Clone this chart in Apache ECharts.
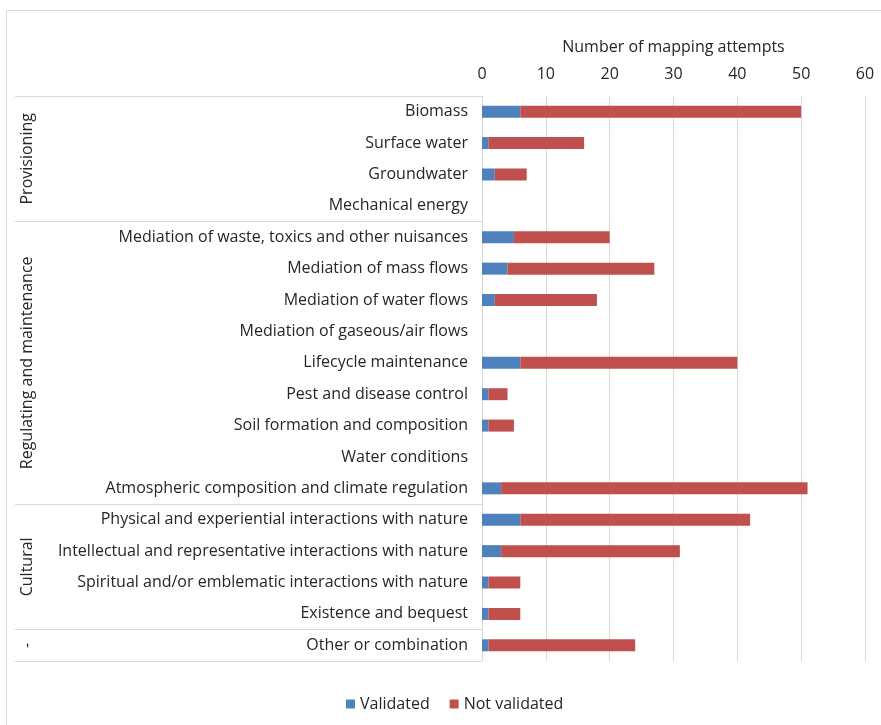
<!DOCTYPE html>
<html>
<head>
<meta charset="utf-8">
<script src="https://cdn.jsdelivr.net/npm/echarts@6/dist/echarts.min.js"></script>
<style>
html,body{margin:0;padding:0;background:#fff;}
#c{width:881px;height:725px;}
</style>
</head>
<body>
<div id="c"></div>
<script>
const categories = [
  "Biomass",
  "Surface water",
  "Groundwater",
  "Mechanical energy",
  "Mediation of waste, toxics and other nuisances",
  "Mediation of mass flows",
  "Mediation of water flows",
  "Mediation of gaseous/air flows",
  "Lifecycle maintenance",
  "Pest and disease control",
  "Soil formation and composition",
  "Water conditions",
  "Atmospheric composition and climate regulation",
  "Physical and experiential interactions with nature",
  "Intellectual and representative interactions with nature",
  "Spiritual and/or emblematic interactions with nature",
  "Existence and bequest",
  "Other or combination"
];
const validated =    [6, 1, 2, 0, 5, 4, 2, 0, 6, 1, 1, 0, 3, 6, 3, 1, 1, 1];
const notValidated = [44, 15, 5, 0, 15, 23, 16, 0, 34, 3, 4, 0, 48, 36, 28, 5, 5, 23];
const groupNames = ["Provisioning", "Regulating and maintenance", "Cultural", "-"];
const groupStart = [0, 4, 13, 17];
const groupEnd =   [3, 12, 16, 17];
const xTicks = [0, 10, 20, 30, 40, 50, 60];

const FONT = "Open Sans";
const FS = 16;
const TXT = "#262626";
const LINE = "#d9d9d9";

const chart = echarts.init(document.getElementById('c'), null, {renderer: 'canvas'});
const option = {
  animation: false,
  textStyle: {fontFamily: FONT},
  grid: {left: 482, top: 96, width: 383, height: 565, containLabel: false},
  xAxis: {
    type: 'value',
    position: 'top',
    min: xTicks[0], max: xTicks[xTicks.length - 1], interval: xTicks[1] - xTicks[0],
    name: 'Number of mapping attempts',
    nameLocation: 'middle',
    nameGap: 41,
    nameTextStyle: {fontFamily: FONT, fontSize: FS, color: TXT},
    axisLine: {show: false},
    axisTick: {show: false},
    axisLabel: {fontFamily: FONT, fontSize: FS, color: TXT, margin: 14},
    splitLine: {show: true, lineStyle: {color: LINE, width: 1}}
  },
  yAxis: {
    type: 'category',
    inverse: true,
    data: categories,
    axisLine: {show: true, lineStyle: {color: LINE, width: 1}},
    axisTick: {
      show: true,
      length: 467,
      lineStyle: {color: LINE, width: 1},
      interval: function (idx) { return groupStart.indexOf(idx) >= 0; }
    },
    axisLabel: {fontFamily: FONT, fontSize: FS, color: TXT, margin: 14, interval: 0}
  },
  legend: {
    left: 341, top: 691,
    icon: 'rect', itemWidth: 9, itemHeight: 9, itemGap: 20, itemStyle: {borderWidth: 0},
    textStyle: {fontFamily: FONT, fontSize: FS, color: TXT},
    data: ['Validated', 'Not validated']
  },
  series: [
    {name: 'Validated', type: 'bar', stack: 'a', data: validated, barWidth: 12,
     itemStyle: {color: '#4F81BD'}},
    {name: 'Not validated', type: 'bar', stack: 'a', data: notValidated, barWidth: 12,
     itemStyle: {color: '#C0504D'}}
  ],
  graphic: [
    {type: 'rect', shape: {x: 6.5, y: 10.5, width: 900, height: 800},
     style: {fill: 'none', stroke: LINE, lineWidth: 1}, silent: true}
  ]
};
chart.setOption(option);

const g = [];
for (let i = 0; i < groupNames.length; i++) {
  const y1 = chart.convertToPixel({yAxisIndex: 0}, categories[groupStart[i]]);
  const y2 = chart.convertToPixel({yAxisIndex: 0}, categories[groupEnd[i]]);
  g.push({
    type: 'text',
    x: 27, y: (y1 + y2) / 2,
    rotation: Math.PI / 2,
    style: {text: groupNames[i], fontFamily: FONT, fontSize: FS, fill: TXT,
            align: 'center', verticalAlign: 'middle'},
    silent: true
  });
}
chart.setOption({graphic: option.graphic.concat(g)});
</script>
</body>
</html>
